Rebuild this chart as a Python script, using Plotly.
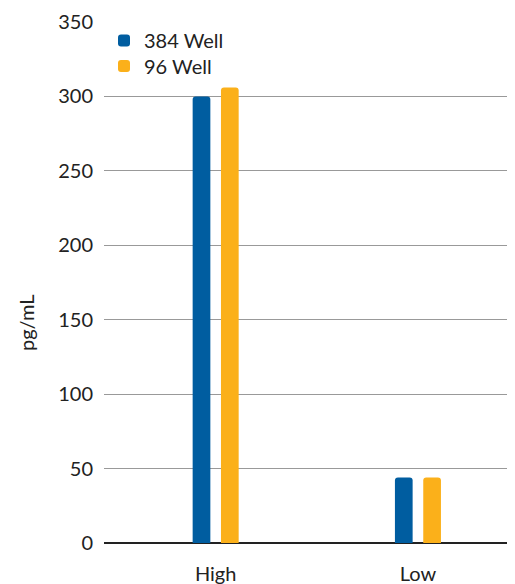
import plotly.graph_objects as go

categories = ["High", "Low"]
well384 = [300, 44]
well96 = [306, 44]
series_names = ["384 Well", "96 Well"]
colors = ["#005DA0", "#FBB01A"]
y_ticks = [0, 50, 100, 150, 200, 250, 300, 350]

FONT = "Lato"
FS = 20

fig = go.Figure()
fig.add_trace(go.Bar(x=categories, y=well384, name=series_names[0], marker_color=colors[0],
                     marker_line_width=0, legend="legend"))
fig.add_trace(go.Bar(x=categories, y=well96, name=series_names[1], marker_color=colors[1],
                     marker_line_width=0, legend="legend2"))

legend_common = dict(x=0.0, xanchor="left", yanchor="top", bgcolor="rgba(0,0,0,0)",
                     font=dict(size=20, family=FONT, color="#222222"), itemwidth=30)

# page body has an 8px margin; plot area sits at x 104..512, y 22..543 of the window
fig.update_layout(
    width=507, height=576,
    margin=dict(l=96, r=3, t=14, b=41, autoexpand=False),
    paper_bgcolor="white", plot_bgcolor="white",
    barmode="group", bargap=0.72, bargroupgap=0.375, barcornerradius=3,
    font=dict(family=FONT, size=FS, color="#222222"),
    showlegend=True,
    legend=dict(y=1.002, **legend_common),
    legend2=dict(y=0.953, **legend_common),
    xaxis=dict(type="category", range=[-0.552, 1.465], showgrid=False, automargin=False,
               showline=False, zeroline=False, ticks="", ticklabelstandoff=17,
               tickfont=dict(size=FS, family=FONT, color="#222222")),
    yaxis=dict(range=[0, 350], tickvals=y_ticks, showgrid=True, gridcolor="#999999",
               gridwidth=1, zeroline=True, zerolinecolor="#222222", zerolinewidth=1.5,
               showline=False, ticks="", ticklabelstandoff=10, automargin=False,
               tickfont=dict(size=FS, family=FONT, color="#222222")),
    annotations=[dict(text="pg/mL", textangle=-90, xref="paper", yref="paper",
                      x=(26 - 104) / 408, y=(543 - 323) / 521, showarrow=False,
                      xanchor="center", yanchor="middle",
                      font=dict(size=FS, family=FONT, color="#222222"))],
)

fig.write_html("out.html")
